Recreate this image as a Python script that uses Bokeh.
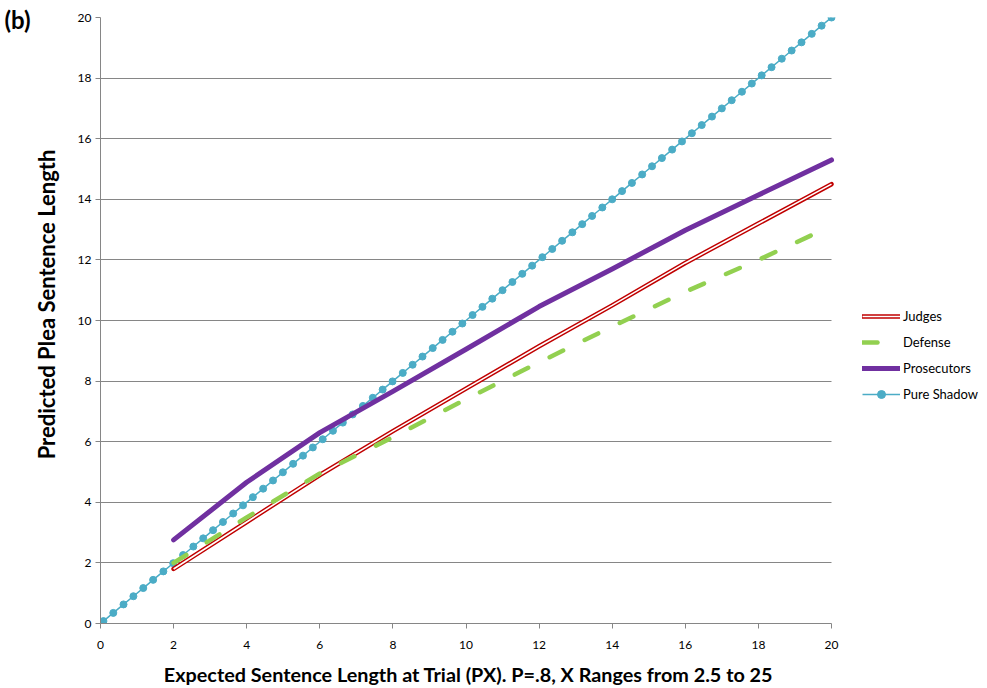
from bokeh.plotting import figure
from bokeh.models import Range1d, FixedTicker, Legend, LegendItem, Label, Grid
from bokeh.embed import file_html
from bokeh.resources import INLINE

# ---- data ----
px_points = [2, 4, 6, 8, 10, 12, 14, 16, 18, 20]
judges = [1.8, 3.35, 4.9, 6.35, 7.75, 9.15, 10.5, 11.9, 13.2, 14.5]
defense = [2.0, 3.5, 4.95, 6.15, 7.4, 8.62, 9.8, 10.95, 12.0, 13.12]
prosecutors = [2.76, 4.66, 6.3, 7.66, 9.05, 10.46, 11.7, 12.98, 14.14, 15.3]
shadow_x = [0.08, 0.35, 0.63, 0.90, 1.17, 1.44, 1.72, 1.99, 2.26, 2.54,
            2.81, 3.08, 3.35, 3.63, 3.90, 4.17, 4.45, 4.72, 4.99, 5.27,
            5.54, 5.81, 6.08, 6.36, 6.63, 6.90, 7.18, 7.45, 7.72, 7.99,
            8.27, 8.54, 8.81, 9.09, 9.36, 9.63, 9.90, 10.18, 10.45, 10.72,
            11.00, 11.27, 11.54, 11.81, 12.09, 12.36, 12.63, 12.91, 13.18, 13.45,
            13.73, 14.00, 14.27, 14.54, 14.82, 15.09, 15.36, 15.64, 15.91, 16.18,
            16.45, 16.73, 17.00, 17.27, 17.55, 17.82, 18.09, 18.36, 18.64, 18.91,
            19.18, 19.46, 19.73, 20.00]
shadow_y = list(shadow_x)  # pure shadow: plea = PX
x_ticks = [0, 2, 4, 6, 8, 10, 12, 14, 16, 18, 20]
y_ticks = [0, 2, 4, 6, 8, 10, 12, 14, 16, 18, 20]
x_min, x_max = 0, 20
x_title = "Expected Sentence Length at Trial (PX). P=.8, X Ranges from 2.5 to 25"
y_title = "Predicted Plea Sentence Length"

FONT = "Lato"
GRID = "#868686"

# plot frame extends over the legend area on the right (legend sits inside it)
FRAME_W, AXIS_W = 887, 731
p = figure(width=987, height=688, output_backend="svg", toolbar_location=None,
           x_range=Range1d(x_min, x_max * FRAME_W / AXIS_W), y_range=Range1d(0, 20),
           min_border_left=100, min_border_right=0, min_border_top=17,
           min_border_bottom=65)
p.outline_line_alpha = 0
p.xgrid.grid_line_alpha = 0
p.ygrid.grid_line_color = GRID
p.ygrid.grid_line_width = 1
p.ygrid.ticker = FixedTicker(ticks=y_ticks)
has_cross = "cross_bounds" in Grid.properties()
if has_cross:
    p.ygrid.cross_bounds = (x_min, x_max)
else:
    p.ygrid.grid_line_alpha = 0
    p.segment(x0=[x_min] * len(y_ticks), y0=y_ticks, x1=[x_max] * len(y_ticks), y1=y_ticks,
              line_color=GRID, line_width=1)

for ax in (p.xaxis[0], p.yaxis[0]):
    ax.axis_line_color = GRID
    ax.axis_line_width = 1
    ax.major_tick_line_color = GRID
    ax.major_tick_in = 0
    ax.major_tick_out = 5
    ax.minor_tick_line_alpha = 0
    ax.major_label_text_font = FONT
    ax.major_label_text_font_size = "12px"
    ax.major_label_text_color = "#000000"
    ax.axis_label_text_font = FONT
    ax.axis_label_text_font_style = "bold"
    ax.axis_label_text_color = "#000000"

p.xaxis[0].bounds = (x_min, x_max)
p.xaxis[0].ticker = FixedTicker(ticks=x_ticks)
p.yaxis[0].ticker = FixedTicker(ticks=y_ticks)
p.xaxis[0].major_label_standoff = 12
p.yaxis[0].major_label_standoff = 4
# leading no-break spaces nudge the rotated title slightly upwards, as in the reference
p.yaxis[0].axis_label = "\u00a0" * 6 + y_title
p.yaxis[0].axis_label_text_font_size = "22px"
p.yaxis[0].axis_label_standoff = 15

# Pure shadow
sh_line = p.line(shadow_x, shadow_y, line_color="#4BACC6", line_width=1.5)
sh_pts = p.scatter(shadow_x, shadow_y, size=7, fill_color="#4BACC6", line_color="#4BACC6")

# Judges (double line)
j_out = p.line(px_points, judges, line_color="#C00000", line_width=4.5, line_cap="round", line_join="round")
j_in = p.line(px_points, judges, line_color="white", line_width=1.6)

# Defense (dashed)
d_line = p.line(px_points, defense, line_color="#92D050", line_width=4.5,
                line_dash="15 24", line_cap="round")

# Prosecutors
pr_line = p.line(px_points, prosecutors, line_color="#7030A0", line_width=5, line_cap="round", line_join="round")

legend = Legend(items=[
    LegendItem(label="Judges", renderers=[j_out, j_in]),
    LegendItem(label="Defense", renderers=[d_line]),
    LegendItem(label="Prosecutors", renderers=[pr_line]),
    LegendItem(label="Pure Shadow", renderers=[sh_line, sh_pts]),
], location=(762, 219))
legend.padding = 0
legend.margin = 0
legend.spacing = 6
legend.glyph_width = 38
legend.glyph_height = 20
legend.label_standoff = 3
legend.label_text_font = FONT
legend.label_text_font_size = "13px"
legend.label_text_color = "#000000"
legend.border_line_alpha = 0
legend.background_fill_alpha = 0
p.add_layout(legend, "center")

# x-axis title, centred under the 0-20 axis
p.add_layout(Label(x=368, y=2, x_units="screen", y_units="screen", text=x_title,
                   text_font=FONT, text_font_style="bold", text_font_size="19.8px",
                   text_align="center", text_baseline="middle", text_color="#000000"), "below")

# panel tag
p.add_layout(Label(x=1, y=619, x_units="screen", y_units="screen", text="(b)",
                   text_font=FONT, text_font_style="bold", text_font_size="24px",
                   text_baseline="top", text_color="#000000"), "left")

open("out.html", "w").write(file_html(p, INLINE))
